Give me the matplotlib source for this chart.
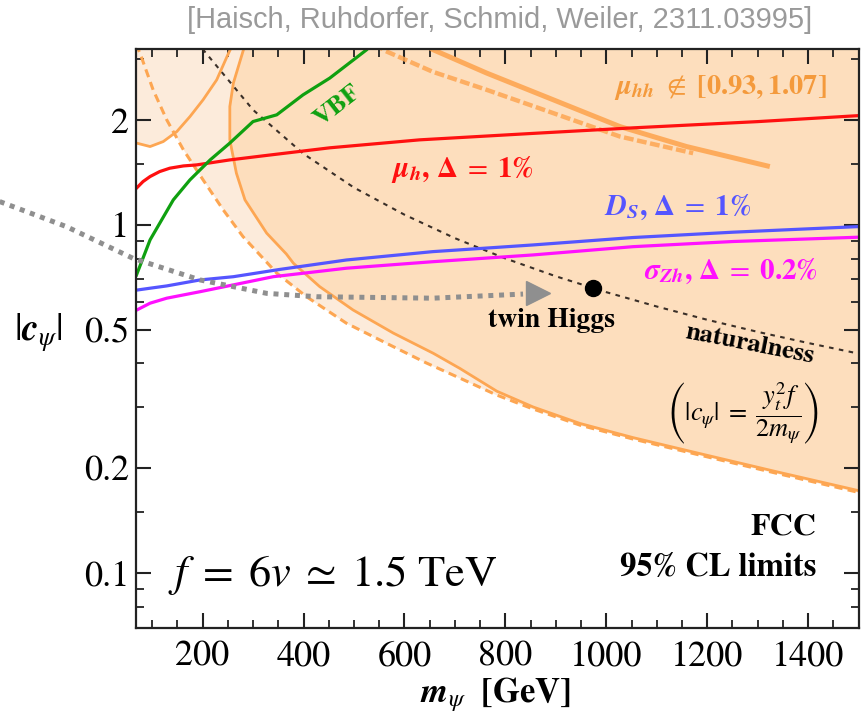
import numpy as np
import matplotlib
matplotlib.use('Agg')
import matplotlib.pyplot as plt
from matplotlib.ticker import FixedLocator, NullFormatter

plt.rcParams['mathtext.fontset'] = 'stix'
plt.rcParams['font.family'] = 'STIXGeneral'

# all curves: m_psi [GeV] vs |c_psi|
red_m = [69, 82, 96, 115, 135, 162, 188, 254, 320, 452, 630, 850, 1053, 1300, 1500]
red_c = [1.275, 1.332, 1.377, 1.423, 1.455, 1.477, 1.487, 1.537, 1.579, 1.665, 1.755, 1.83, 1.90, 1.98, 2.06]

blue_m = [70, 96, 129, 195, 261, 353, 485, 656, 710, 855, 1053, 1251, 1500]
blue_c = [0.650, 0.658, 0.668, 0.695, 0.710, 0.745, 0.793, 0.838, 0.848, 0.876, 0.920, 0.953, 0.989]

mag_m = [70, 96, 129, 195, 340, 485, 656, 855, 1053, 1251, 1500]
mag_c = [0.570, 0.596, 0.616, 0.643, 0.710, 0.751, 0.784, 0.820, 0.866, 0.896, 0.922]

vbf_m = [69, 96, 142, 175, 215, 254, 300, 347, 399, 452, 525, 540]
vbf_c = [0.718, 0.906, 1.180, 1.347, 1.537, 1.718, 1.981, 2.071, 2.363, 2.640, 3.184, 3.35]

nat_m = [200, 300, 400, 500, 600, 700, 800, 900, 1000, 1100, 1200, 1300, 1400, 1500]
nat_c = [3.20, 2.14, 1.60, 1.28, 1.07, 0.916, 0.801, 0.712, 0.641, 0.583, 0.534, 0.493, 0.458, 0.427]

twin_m, twin_c = 973, 0.66

# twin Higgs arrow (starts left of the frame)
arr_m = [-202, -70, 62, 195, 327, 426, 656, 835]
arr_c = [1.167, 0.989, 0.802, 0.695, 0.636, 0.622, 0.616, 0.633]
head_m, head_c = 865, 0.636

# mu_hh region boundaries
dash_m = [68, 76, 102, 129, 162, 201, 241, 280, 347, 406, 485, 578, 644, 710, 783, 855, 948, 1053, 1185, 1344, 1500]
dash_c = [3.30, 3.114, 2.443, 2.003, 1.643, 1.347, 1.104, 0.926, 0.727, 0.622, 0.522, 0.447, 0.401, 0.363,
          0.3246, 0.296, 0.266, 0.2427, 0.2183, 0.1925, 0.1705]

sol_m = [284, 281, 261, 254, 254, 267, 284, 327, 366, 380, 432, 498, 578, 657, 710, 783, 855, 948, 1053, 1185, 1344, 1500]
sol_c = [3.30, 3.184, 2.554, 2.188, 1.755, 1.408, 1.18, 0.947, 0.825, 0.776, 0.665, 0.570, 0.489, 0.428, 0.387,
         0.333, 0.300, 0.269, 0.245, 0.2205, 0.1945, 0.1725]

u_m = [69, 96, 122, 149, 175, 201, 228, 250, 262]
u_c = [1.718, 1.679, 1.735, 1.854, 2.047, 2.287, 2.61, 3.08, 3.35]

top_m = [630, 657, 763, 895, 1027, 1159, 1324]
top_c = [3.35, 3.184, 2.729, 2.287, 1.916, 1.679, 1.471]

topd_m = [545, 557, 656, 763, 895, 1027, 1172]
topd_c = [3.35, 3.184, 2.753, 2.443, 2.094, 1.794, 1.607]

yt = [0.1, 0.2, 0.5, 1, 2]
yt_lab = ['0.1', '0.2', '0.5', '1', '2']
yminor = [0.08, 0.09, 0.15, 0.3, 0.4, 0.6, 0.7, 0.8, 0.9, 1.5, 3]
xt = [200, 400, 600, 800, 1000, 1200, 1400]

orange = '#FDA652'
light = '#FCEBDB'
dark = '#FDDEBD'

fig = plt.figure(figsize=(8.66, 7.24), dpi=100)
ax = fig.add_axes([0.157, 0.133, 0.8345, 0.7993])

# filled regions
ax.fill_between(dash_m, dash_c, 5, color=light, lw=0)
ax.fill(np.r_[60, u_m, 60], np.r_[u_c[0], u_c, 5], color=light, lw=0)
ax.fill(np.r_[sol_m, 1500, sol_m[0]], np.r_[sol_c, 5, 5], color=dark, lw=0)

ax.plot(dash_m, dash_c, color=orange, lw=2.2, ls=(0, (2.7, 1.7)), dash_capstyle='butt')
ax.plot(sol_m, sol_c, color=orange, lw=2.0)
ax.plot(u_m, u_c, color=orange, lw=2.0)
ax.plot(top_m, top_c, color=orange, lw=3.6, alpha=0.9, solid_capstyle='butt')
ax.plot(topd_m, topd_c, color=orange, lw=3.2, ls=(0, (2.2, 0.8)), dash_capstyle='butt', alpha=0.85)

ax.plot(nat_m, nat_c, color='#3a2f28', lw=1.5, ls=(0, (2.2, 2.6)))

ax.plot(red_m, red_c, color='#FF1010', lw=2.3)
ax.plot(vbf_m, vbf_c, color='#0FA010', lw=2.3)
ax.plot(blue_m, blue_c, color='#5555FF', lw=2.3)
ax.plot(mag_m, mag_c, color='#FF10FF', lw=2.3)

ax.plot(arr_m, arr_c, color='#8f8f8f', lw=3.6, ls=(0, (1, 1.15)), dash_capstyle='butt', clip_on=False)
ax.plot(head_m, head_c, marker='>', ms=17, color='#8f8f8f', clip_on=False)
ax.plot(twin_m, twin_c, 'o', ms=11.5, color='black')

ax.set_yscale('log')
ax.set_xlim(68, 1500)
ax.set_ylim(0.0697, 3.2)

ax.yaxis.set_major_locator(FixedLocator(yt))
ax.yaxis.set_minor_locator(FixedLocator(yminor))
ax.yaxis.set_minor_formatter(NullFormatter())
ax.set_yticklabels(yt_lab)
ax.xaxis.set_major_locator(FixedLocator(xt))
ax.xaxis.set_minor_locator(FixedLocator([v for v in range(100, 1500, 50) if v % 200]))
ax.set_xticklabels([str(v) for v in xt])

ax.tick_params(which='both', direction='in', top=True, right=True, labelsize=26, colors='#222222', labelcolor='black')
ax.tick_params(which='major', length=10.5, width=1.5)
ax.tick_params(which='minor', length=5.5, width=1.3)
ax.tick_params(axis='x', pad=9)
ax.tick_params(axis='y', pad=5)
for s in ax.spines.values():
    s.set_linewidth(1.6)
    s.set_color('#222222')

ax.set_xlabel(r'$\mathbfit{m}_{\psi}\ \ \mathbf{[GeV]}$', fontsize=25)
ax.xaxis.set_label_coords(0.497, -0.116)
ax.xaxis.label.set_va('center')
fig.text(38 / 866, 1 - 333 / 724, r'$|\mathbfit{c}_{\psi}|$', fontsize=27, ha='center', va='center')

# labels
ax.text(714, 1.44, r'$\mathbfit{\mu}_{\mathbfit{h}}\mathbf{,}\ \mathbf{\Delta}\;=\;\mathbf{1\%}$',
        color='#FF1010', fontsize=21, ha='center', va='center')
ax.text(1142, 1.126, r'$\mathbfit{D}_{\mathbfit{S}}\mathbf{,}\ \mathbf{\Delta}\;=\;\mathbf{1\%}$',
        color='#5555FF', fontsize=21, ha='center', va='center')
ax.text(1247, 0.738, r'$\mathbfit{\sigma}_{\mathbfit{Zh}}\mathbf{,}\ \mathbf{\Delta}\;=\;\mathbf{0.2\%}$',
        color='#FF10FF', fontsize=21, ha='center', va='center')
ax.text(1225, 2.476, r'$\mathbfit{\mu}_{\mathbfit{hh}}\ \notin\ \mathbf{[0.93, 1.07]}$',
        color='#F49A3C', fontsize=20.5, ha='center', va='center')
ax.text(468, 2.2, 'VBF', color='#0FA010', fontsize=19, fontweight='bold', rotation=38, ha='center', va='center')
ax.text(892, 0.533, 'twin Higgs', fontsize=20, fontweight='bold', ha='center', va='center')
ax.text(1285, 0.452, 'naturalness', fontsize=19, fontweight='bold', rotation=-11, ha='center', va='center')
ax.text(1270, 0.288, r'$\left(|c_\psi|\;=\;\dfrac{y_t^2 f}{2 m_\psi}\right)$', fontsize=19, ha='center', va='center')
ax.text(1416, 0.136, 'FCC', fontsize=23, fontweight='bold', ha='right', va='center')
ax.text(1416, 0.1034, '95% CL limits', fontsize=23.5, fontweight='bold', ha='right', va='center')
ax.text(131, 0.0987, r'$f\;=\;6v\;\simeq\;1.5\ \mathrm{TeV}$', fontsize=32, ha='left', va='center')

fig.text(0.577, 0.972, '[Haisch, Ruhdorfer, Schmid, Weiler, 2311.03995]', color='#9a9a9a',
         family='Liberation Sans', fontsize=20.9, ha='center', va='center')

fig.savefig('out.png', dpi=100)
